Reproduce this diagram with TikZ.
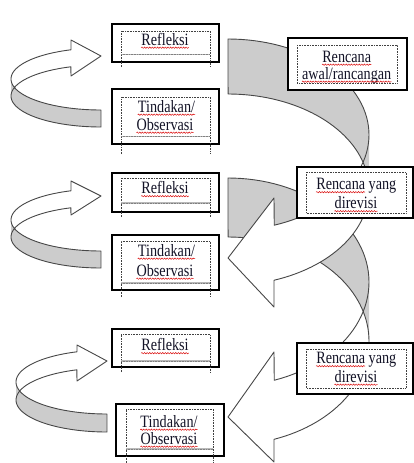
\documentclass[tikz,border=0pt]{standalone}
\usepackage{fontspec}
\setmainfont{Liberation Serif}
\usetikzlibrary{calc,decorations.pathmorphing}
\definecolor{textc}{HTML}{121226}
\newcommand{\vstr}[1]{\scalebox{1}[1.22]{#1}}
% curved arrow (Word curvedLeftArrow geometry), local frame: origin = top-left, y down
% #1 transform, #2 w, #3 hR, #4 th, #5 ah, #6 y4, #7 y8, #8 y6
\newcommand{\curvarrow}[8]{%
\begin{scope}[#1]
\pgfmathsetmacro\cphi{acos(#5/#2)}
\pgfmathsetmacro\cpsi{asin(#4/(2*#3))}
\pgfmathsetmacro\cyfive{#3*(1+sin(\cphi))}
\fill[frontfill] (0,#8) -- (#5,#6) -- (#5,\cyfive)
  -- plot[domain=0:1,samples=30,variable=\q] ({#2*cos(\cphi+(\cpsi-\cphi)*\q)},{#3+#3*sin(\cphi+(\cpsi-\cphi)*\q)})
  -- plot[domain=0:1,samples=40,variable=\q] ({#2*cos(-\cpsi+(\cphi+\cpsi)*\q)},{#3+#4+#3*sin(-\cpsi+(\cphi+\cpsi)*\q)})
  -- (#5,#7) -- cycle;
\fill[backfill] plot[domain=0:1,samples=40,variable=\q] ({#2*cos(-90+90*\q)},{#3+#3*sin(-90+90*\q)})
  -- plot[domain=0:1,samples=40,variable=\q] ({#2*cos(-90*\q)},{#3+#4+#3*sin(-90*\q)}) -- cycle;
\draw[outl] plot[domain=0:1,samples=40,variable=\q] ({#2*cos(-90*\q)},{#3+#4+#3*sin(-90*\q)})
  -- (0,0)
  -- plot[domain=0:1,samples=60,variable=\q] ({#2*cos(-90+(\cphi+90)*\q)},{#3+#3*sin(-90+(\cphi+90)*\q)})
  -- (#5,#6) -- (0,#8) -- (#5,#7)
  -- plot[domain=0:1,samples=30,variable=\q] ({#2*cos(\cphi*(1-\q))},{#3+#4+#3*sin(\cphi*(1-\q))});
\end{scope}}
\newcommand{\innerlines}[5]{%
\draw[dotl] (#1,#5) -- (#1,#3) -- (#2,#3) -- (#2,#5);
\draw[gline] (#1,#4) -- (#2,#4);
\draw[dotl,black!50] (#1,#4) -- (#2,#4);}
\begin{document}
\begin{tikzpicture}[x=1pt,y=-1pt,
  frontfill/.style={fill=white},
  backfill/.style={fill=gray!40},
  outl/.style={draw=black!72,line width=0.9pt,line join=round},
  obox/.style={draw=black,line width=1.2pt,fill=white,inner sep=0pt,outer sep=0pt,anchor=north west},
  dotl/.style={densely dotted,line width=0.6pt,black!75},
  gline/.style={line width=1.8pt,gray!55},
  txt/.style={font=\fontsize{14.2pt}{16pt}\selectfont,text=textc,inner sep=0pt,anchor=base},
  wavy/.style={draw=red!85!black,line width=0.45pt,decorate,decoration={snake,amplitude=0.7pt,segment length=2.6pt}}]
\useasboundingbox (0,0) rectangle (414,463);
\clip (0,0) rectangle (414,463);
% big curved arrows
\curvarrow{shift={(228,178)}}{141}{104}{59}{46}{174}{284}{239}
\curvarrow{shift={(228,39)}}{141}{95.75}{55}{46}{159}{268}{219}
% small curved arrows
\curvarrow{shift={(101,127)},rotate=180}{90}{31}{17}{30}{51}{87}{71}
\curvarrow{shift={(101,268)},rotate=180}{90}{31}{17}{30}{53}{87}{72}
\curvarrow{shift={(107,432)},rotate=180}{91}{32}{18}{30}{51}{87}{71}
% left boxes
\node[obox,minimum width=107pt,minimum height=38pt] (bref1) at (112,24) {};
\node[obox,minimum width=107pt,minimum height=55pt] (btin1) at (112,89) {};
\node[obox,minimum width=107pt,minimum height=39pt] (bref2) at (112,173) {};
\node[obox,minimum width=107pt,minimum height=55pt] (btin2) at (112,235) {};
\node[obox,minimum width=107pt,minimum height=38pt] (bref3) at (112,329) {};
\node[obox,minimum width=108pt,minimum height=52pt] (btin3) at (116,404) {};
\innerlines{121}{210}{31}{54.5}{67}
\innerlines{121}{210}{97}{136.5}{154}
\innerlines{121}{210}{178}{203}{217}
\innerlines{121}{210}{241}{283}{297}
\innerlines{121}{210}{334}{361}{372}
\innerlines{126}{213}{409}{449}{463}
% right boxes
\node[obox,minimum width=119pt,minimum height=52pt] (bren1) at (288,38) {};
\node[obox,minimum width=116pt,minimum height=51pt] (bren2) at (297,167) {};
\node[obox,minimum width=116pt,minimum height=51pt] (bren3) at (297,343) {};
\draw[dotl] (297,45) rectangle (397,83);
\draw[dotl] (306,172) rectangle (406,213);
\draw[dotl] (306,349) rectangle (406,388);
% texts
\node[txt] (tr1) at (165,45) {\vstr{Refleksi}};
\node[txt] (tt1a) at (166.5,112) {\vstr{Tindakan/}};
\node[txt] (tt1b) at (165,130) {\vstr{Observasi}};
\node[txt] (tra) at (346.7,62) {\vstr{Rencana}};
\node[txt] (trb) at (346.7,79) {\vstr{awal/rancangan}};
\node[txt] (tr2) at (165,193.5) {\vstr{Refleksi}};
\node[txt] (tt2a) at (166.5,256) {\vstr{Tindakan/}};
\node[txt] (tt2b) at (165,276) {\vstr{Observasi}};
\node[txt] (trc) at (356.3,189.5) {\vstr{Rencana yang}};
\node[txt] (trd) at (356,208.5) {\vstr{direvisi}};
\node[txt] (tr3) at (165,350.5) {\vstr{Refleksi}};
\node[txt] (tt3a) at (169,427) {\vstr{Tindakan/}};
\node[txt] (tt3b) at (169,444) {\vstr{Observasi}};
\node[txt] (tre) at (356.3,363.5) {\vstr{Rencana yang}};
\node[txt] (trf) at (356,382) {\vstr{direvisi}};
% spelling underlines
\foreach \n in {tr1,tt1a,tt1b,tra,trb,tr2,tt2a,tt2b,trd,tr3,tt3a,tt3b,trf}
  \draw[wavy] ([yshift=-2.7pt]\n.base west) -- ([yshift=-2.7pt]\n.base east);
\foreach \n in {trc,tre}
  \draw[wavy] ([yshift=-2.7pt]\n.base west) -- ([yshift=-2.7pt]$(\n.base west)!0.611!(\n.base east)$);
\end{tikzpicture}
\end{document}
